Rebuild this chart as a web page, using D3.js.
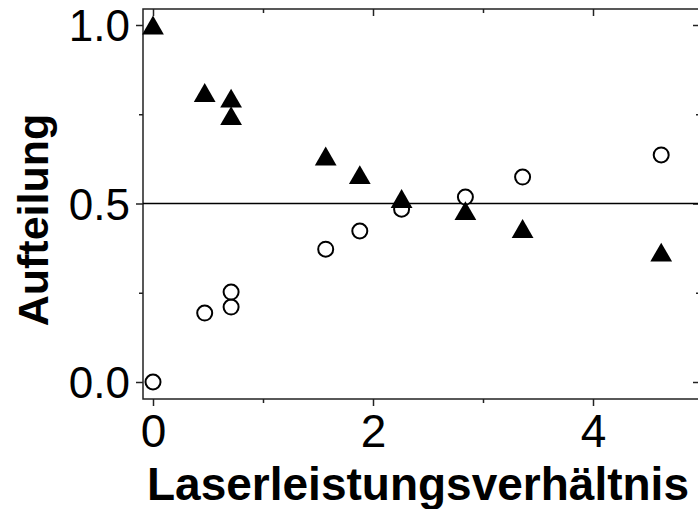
<!DOCTYPE html>
<html>
<head>
<meta charset="utf-8">
<script src="https://cdn.jsdelivr.net/npm/d3@7"></script>
<style>
  html, body { margin: 0; padding: 0; background: #fff; }
  svg { display: block; }
  text { font-family: "Liberation Sans", Arial, sans-serif; fill: #000; }
</style>
</head>
<body>
<svg id="chart" width="698" height="509"></svg>
<script>
// ---- data ----
const ratio = [0, 0.47, 0.71, 0.71, 1.57, 1.88, 2.26, 2.84, 3.36, 4.62];
const openCircles = [0.0, 0.193, 0.21, 0.252, 0.372, 0.423, 0.484, 0.518, 0.574, 0.636];
const filledTriangles = [1.0, 0.811, 0.795, 0.746, 0.633, 0.581, 0.514, 0.48, 0.43, 0.364];
const xMajorTicks = [0, 2, 4];
const xMinorTicks = [1, 3];
const yMajorTicks = [0.0, 0.5, 1.0];
const yMinorTicks = [0.25, 0.75];
const referenceLevel = 0.5;
const xTitle = "Laserleistungsverhältnis";
const yTitle = "Aufteilung";

// ---- layout ----
const W = 698, H = 509;
const plot = { left: 143, top: 9, right: 700, bottom: 399 };

const x = d3.scaleLinear().domain([0, 4]).range([153, 593]);
x.domain([x.invert(plot.left), x.invert(plot.right)]).range([plot.left, plot.right]);
const y = d3.scaleLinear().domain([0, 1]).range([382, 25]);
y.domain([y.invert(plot.bottom), y.invert(plot.top)]).range([plot.bottom, plot.top]);

const svg = d3.select("#chart");
const axisColor = "#222";

// frame
svg.append("rect")
  .attr("x", plot.left).attr("y", plot.top)
  .attr("width", plot.right - plot.left).attr("height", plot.bottom - plot.top)
  .attr("fill", "none").attr("stroke", axisColor).attr("stroke-width", 1.5);

function styleAxis(g) {
  g.select(".domain").remove();
  g.selectAll(".tick line").attr("stroke", axisColor).attr("stroke-width", 1.5);
}

// bottom axis (outward)
svg.append("g").attr("transform", `translate(0,${plot.bottom})`)
  .call(d3.axisBottom(x).tickValues(xMajorTicks).tickSize(7).tickPadding(8).tickFormat(d3.format("d")))
  .call(styleAxis)
  .call(g => g.selectAll("text").attr("font-size", 46).attr("dy", "0.71em").attr("fill", "#000"));
svg.append("g").attr("transform", `translate(0,${plot.bottom})`)
  .call(d3.axisBottom(x).tickValues(xMinorTicks).tickSize(4).tickFormat(""))
  .call(styleAxis);

// top axis (inward)
svg.append("g").attr("transform", `translate(0,${plot.top})`)
  .call(d3.axisTop(x).tickValues(xMajorTicks).tickSize(-7).tickFormat(""))
  .call(styleAxis);
svg.append("g").attr("transform", `translate(0,${plot.top})`)
  .call(d3.axisTop(x).tickValues(xMinorTicks).tickSize(-4).tickFormat(""))
  .call(styleAxis);

// left axis (outward)
svg.append("g").attr("transform", `translate(${plot.left},0)`)
  .call(d3.axisLeft(y).tickValues(yMajorTicks).tickSize(7).tickPadding(6).tickFormat(d3.format(".1f")))
  .call(styleAxis)
  .call(g => g.selectAll("text").attr("font-size", 44).attr("dy", "0.36em").attr("fill", "#000"));
svg.append("g").attr("transform", `translate(${plot.left},0)`)
  .call(d3.axisLeft(y).tickValues(yMinorTicks).tickSize(4).tickFormat(""))
  .call(styleAxis);

// right axis (inward)
svg.append("g").attr("transform", `translate(${plot.right},0)`)
  .call(d3.axisRight(y).tickValues(yMajorTicks).tickSize(-7).tickFormat(""))
  .call(styleAxis);
svg.append("g").attr("transform", `translate(${plot.right},0)`)
  .call(d3.axisRight(y).tickValues(yMinorTicks).tickSize(-4).tickFormat(""))
  .call(styleAxis);

// reference line
svg.append("line")
  .attr("x1", plot.left).attr("x2", plot.right)
  .attr("y1", y(referenceLevel)).attr("y2", y(referenceLevel))
  .attr("stroke", "#000").attr("stroke-width", 1.3);

// open circles
svg.append("g").selectAll("circle")
  .data(ratio.map((r, i) => ({ r, v: openCircles[i] })))
  .join("circle")
  .attr("cx", d => x(d.r)).attr("cy", d => y(d.v)).attr("r", 7.5)
  .attr("fill", "#fff").attr("stroke", "#000").attr("stroke-width", 2);

// filled triangles (bbox-centred on the data point)
const triSize = 205;
const triH = Math.sqrt(triSize * 4 / Math.sqrt(3)) * Math.sqrt(3) / 2;
const tri = d3.symbol(d3.symbolTriangle, triSize);
svg.append("g").selectAll("path")
  .data(ratio.map((r, i) => ({ r, v: filledTriangles[i] })))
  .join("path")
  .attr("d", tri)
  .attr("transform", d => `translate(${x(d.r)},${y(d.v) + triH / 6})`)
  .attr("fill", "#000");

// axis titles
svg.append("text")
  .attr("x", 418).attr("y", 500)
  .attr("text-anchor", "middle")
  .attr("font-size", 46).attr("font-weight", "bold")
  .text(xTitle);
svg.append("text")
  .attr("transform", `translate(48,220) rotate(-90)`)
  .attr("text-anchor", "middle")
  .attr("font-size", 43).attr("font-weight", "bold")
  .text(yTitle);
</script>
</body>
</html>
